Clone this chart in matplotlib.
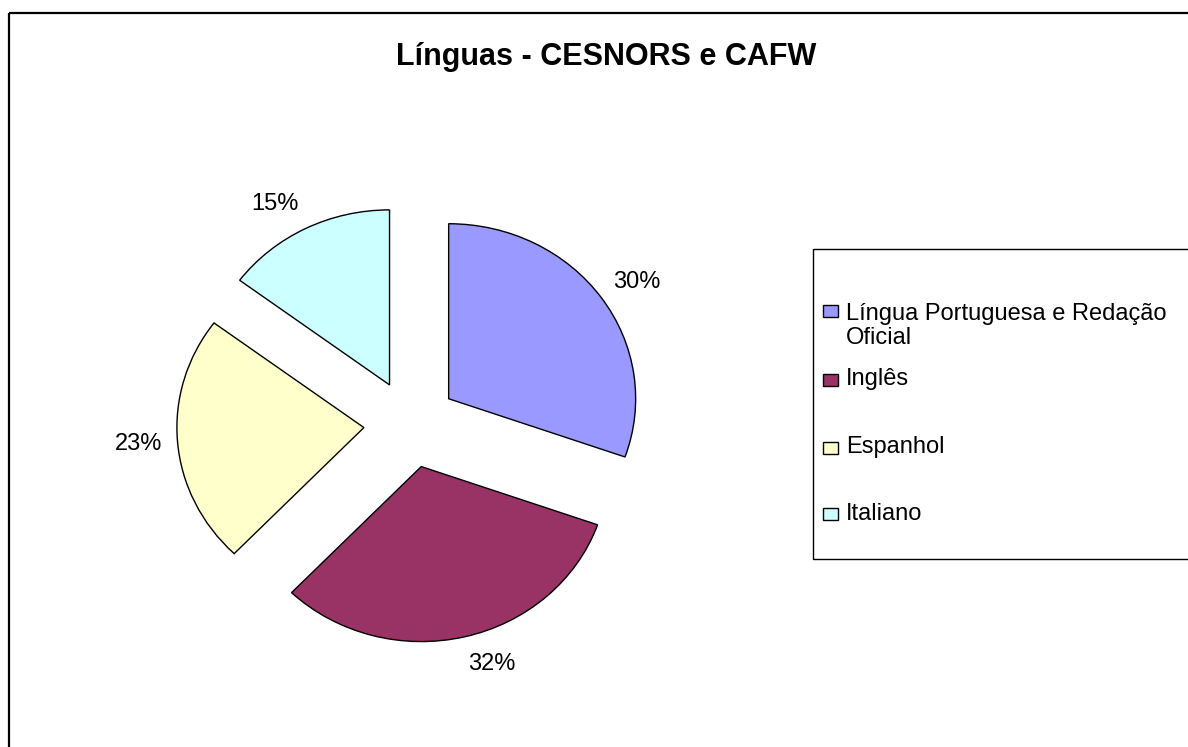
import numpy as np
from matplotlib import pyplot as plt
from matplotlib.patches import Rectangle

plt.rcParams['font.family'] = ['Liberation Sans', 'DejaVu Sans']

# Data
title = 'Línguas - CESNORS e CAFW'
labels = ['Língua Portuguesa e Redação\nOficial', 'Inglês', 'Espanhol', 'Italiano']
shares = [30.4, 31.8, 23.0, 14.8]
colors = ['#9999FF', '#993366', '#FFFFCC', '#CCFFFF']

W, H = 1188, 747
fig = plt.figure(figsize=(W / 100, H / 100), dpi=100)
fig.patch.set_facecolor('white')

# Overlay in pixel coordinates for the border, title and legend
bg = fig.add_axes([0, 0, 1, 1])
bg.set_xlim(0, W)
bg.set_ylim(H, 0)
bg.axis('off')
bg.add_patch(Rectangle((9, 13), W + 50, H + 50, fill=False,
                       edgecolor='black', linewidth=1.6))
bg.text(606, 57, title, ha='center', va='center',
        fontsize=22, fontweight='bold')

# Pie (slightly wider than tall, like the original)
ax = fig.add_axes([130 / W, 60.5 / H, 561 / W, 525 / H])
wedges, texts, autotexts = ax.pie(
    shares, colors=colors, startangle=90, counterclock=False,
    explode=[0.25] * len(shares), autopct='%.0f%%', pctdistance=1.2,
    wedgeprops=dict(edgecolor='black', linewidth=1.0),
    textprops=dict(fontsize=17, color='black'))
ax.set_aspect('auto')
ax.set_xlim(-1.5, 1.5)
ax.set_ylim(-1.5, 1.5)

# put the percent labels just outside the slice
for w, t in zip(wedges, autotexts):
    ang = np.deg2rad((w.theta1 + w.theta2) / 2)
    cx, cy = w.center
    r = 1.08
    x = cx + r * np.cos(ang)
    y = cy + r * np.sin(ang) + 0.078 * np.sin(ang)
    t.set_position((x, y))
    t.set_ha('left' if np.cos(ang) > 0 else 'right')
    t.set_va('center')

# Legend box, drawn by hand so it runs off the right edge like the original
bg.add_patch(Rectangle((813, 249), 420, 310, fill=False,
                       edgecolor='black', linewidth=1.0))
square_y = [310.5, 380, 448, 514]
text_y = [326, 379, 447, 513.5]
for lab, col, sy, ty in zip(labels, colors, square_y, text_y):
    bg.add_patch(Rectangle((823, sy - 6), 15, 12, facecolor=col,
                           edgecolor='black', linewidth=1.0))
    bg.text(846, ty, lab, ha='left', va='center', fontsize=17,
            linespacing=1.15)

fig.savefig('out.png', dpi=100)
